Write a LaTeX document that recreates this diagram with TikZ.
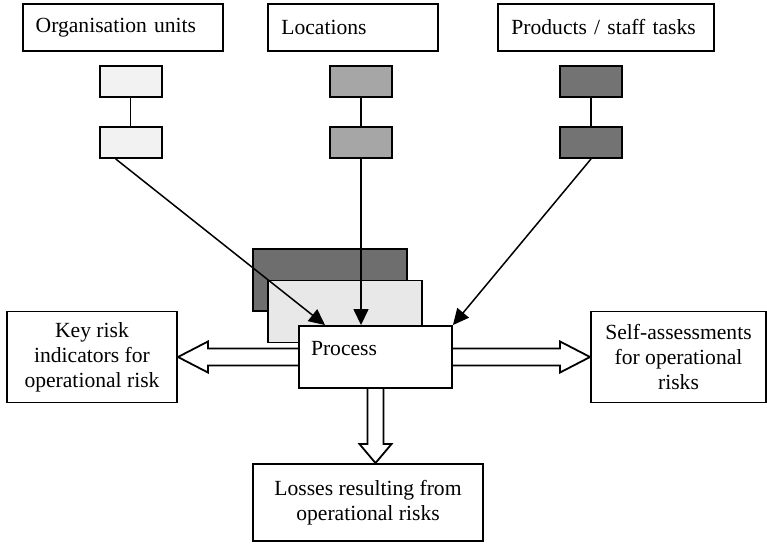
\documentclass[tikz,border=0pt]{standalone}
\usepackage{fontspec}
\setmainfont{Liberation Serif}
\usepackage{tikz}
\usetikzlibrary{
  arrows.meta,
  positioning,
  calc,
  backgrounds
}
\definecolor{palegrey}{HTML}{F2F2F2}
\definecolor{midgrey}{HTML}{A6A6A6}
\definecolor{darkgrey}{HTML}{737373}
\definecolor{stackdark}{HTML}{6E6E6E}
\definecolor{stacklight}{HTML}{E8E8E8}
\tikzset{
  topbox/.style={
    rectangle,
    draw=black,
    line width=1.9pt,
    fill=white,
    align=left,
    minimum height=47pt,
    inner xsep=13pt,
    inner ysep=0pt
  },
  sidebox/.style={
    rectangle,
    draw=black,
    line width=1.9pt,
    fill=white,
    align=center,
    inner sep=0pt
  },
  unitbox/.style={
    rectangle,
    draw=black,
    line width=1.9pt,
    minimum width=62pt,
    minimum height=31pt,
    inner sep=0pt
  },
  stackbox/.style={
    rectangle,
    draw=black,
    line width=1.9pt,
    minimum width=154pt,
    minimum height=62pt,
    inner sep=0pt
  },
  link/.style={
    line width=1.5pt
  },
  arrow/.style={
    -{Triangle[length=16pt,width=15pt]},
    line width=1.5pt
  },
  fatarrow/.style={
    line width=1.8pt,
    fill=white,
    line join=miter
  }
}

\begin{document}
\begin{tikzpicture}[x=1pt, y=-1pt, font=\fontsize{21.6}{25}\selectfont]
\useasboundingbox (0,0) rectangle (767,543);

% dimensions
\node[topbox, text width=174pt] (orgunits) at (122.7,27.5) {Organisation units};
\node[topbox, text width=144pt] (locations) at (353.4,27.5) {Locations};
\node[topbox, text width=190pt] (products) at (606.4,27.5) {Products / staff tasks};

\node[unitbox, fill=palegrey] (orga) at (130.7,81.5) {};
\node[unitbox, fill=palegrey] (orgb) at (130.7,142.5) {};
\node[unitbox, fill=midgrey] (loca) at (361,81.5) {};
\node[unitbox, fill=midgrey] (locb) at (361,142.5) {};
\node[unitbox, fill=darkgrey] (proda) at (591,81.5) {};
\node[unitbox, fill=darkgrey] (prodb) at (591,142.5) {};

\draw[link] (orga) -- (orgb);
\draw[link] (loca) -- (locb);
\draw[link] (proda) -- (prodb);

% process stack
\node[stackbox, fill=stackdark] (backdark) at (330,280) {};
\node[stackbox, fill=stacklight] (backlight) at (345,311.5) {};
\node[stackbox, fill=white, minimum width=153pt, align=left, text width=129pt,
      inner xsep=12pt, text height=14pt, text depth=18pt] (process) at (375.5,357) {Process};

% outputs
\node[sidebox, minimum width=170pt, minimum height=91pt] (keyrisk) at (92,357)
  {Key risk\\indicators for\\operational risk};
\node[sidebox, minimum width=175pt, minimum height=91pt] (selfassess) at (678.5,357)
  {Self-assessments\\for operational\\risks};
\node[sidebox, minimum width=230pt, minimum height=77pt] (losses) at (368,502.5)
  {Losses resulting from\\operational risks};

\draw[arrow] ([xshift=-15pt]orgb.south) -- ([xshift=-50.5pt]process.north);
\draw[arrow] (locb.south) -- (locb.south |- process.north);
\draw[arrow] (prodb.south) -- (process.north east);

\coordinate (losstip) at (process.south |- losses.north);

\begin{scope}[on background layer]
\draw[fatarrow] ([yshift=8.5pt]process.west) -- ([xshift=30pt,yshift=8.5pt]keyrisk.east)
  -- ([xshift=30pt,yshift=15.5pt]keyrisk.east) -- (keyrisk.east)
  -- ([xshift=30pt,yshift=-15.5pt]keyrisk.east) -- ([xshift=30pt,yshift=-8.5pt]keyrisk.east)
  -- ([yshift=-8.5pt]process.west);
\draw[fatarrow] ([yshift=8.5pt]process.east) -- ([xshift=-30pt,yshift=8.5pt]selfassess.west)
  -- ([xshift=-30pt,yshift=15.5pt]selfassess.west) -- (selfassess.west)
  -- ([xshift=-30pt,yshift=-15.5pt]selfassess.west) -- ([xshift=-30pt,yshift=-8.5pt]selfassess.west)
  -- ([yshift=-8.5pt]process.east);
\draw[fatarrow] ([xshift=-8pt]process.south) -- ([xshift=-8pt,yshift=19pt]losstip)
  -- ([xshift=-16pt,yshift=19pt]losstip) -- (losstip)
  -- ([xshift=16pt,yshift=19pt]losstip) -- ([xshift=8pt,yshift=19pt]losstip)
  -- ([xshift=8pt]process.south);
\end{scope}
\end{tikzpicture}
\end{document}
